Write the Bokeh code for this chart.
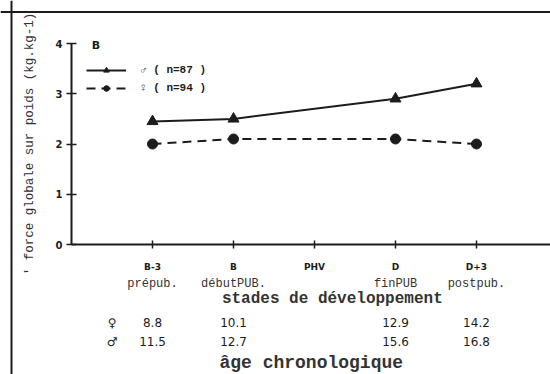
from bokeh.plotting import figure
from bokeh.models import (LinearAxis, FixedTicker, Range1d, Span, Label,
                          Legend, LegendItem)
from bokeh.embed import file_html
from bokeh.resources import INLINE

# ---------------- data ----------------
stage_codes = ["B-3", "B", "PHV", "D", "D+3"]
stage_names = ["prépub.", "débutPUB.", "", "finPUB", "postpub."]
age_female = ["8.8", "10.1", "", "12.9", "14.2"]
age_male = ["11.5", "12.7", "", "15.6", "16.8"]
grip_male = [2.45, 2.50, None, 2.90, 3.20]      # ♂ (n=87)
grip_female = [2.00, 2.10, None, 2.10, 2.00]    # ♀ (n=94)
y_ticks = [0, 1, 2, 3, 4]

stage_pos = [i + 1 for i in range(len(stage_codes))]

INK = "#1c1c1c"
MONO = "Liberation Mono"
SANS = "DejaVu Sans"

p = figure(width=550, height=374, output_backend="svg", toolbar_location=None,
           x_range=Range1d(-0.877, 5.914), y_range=Range1d(-2.587, 4.856),
           x_axis_type=None, y_axis_type=None,
           min_border=0, min_border_left=0, min_border_right=0,
           min_border_top=0, min_border_bottom=0)
p.grid.visible = False
p.outline_line_color = None
p.background_fill_color = "white"
p.border_fill_color = "white"

# page frame lines (left and top)
p.add_layout(Span(location=-0.741, dimension="height", line_color=INK, line_width=2))
p.add_layout(Span(location=4.627, dimension="width", line_color=INK, line_width=2))

# ---------------- y axis ----------------
yax = LinearAxis(fixed_location=0, bounds=(0, 4),
                 ticker=FixedTicker(ticks=y_ticks),
                 axis_line_color=INK, axis_line_width=2,
                 major_tick_line_color=INK, major_tick_line_width=1.5,
                 major_tick_in=5, major_tick_out=5, minor_tick_line_color=None,
                 major_label_standoff=4,
                 major_label_text_font=SANS, major_label_text_font_style="bold",
                 major_label_text_font_size="10px", major_label_text_color=INK,
                 axis_label="' force globale sur poids (kg.kg-1)",
                 axis_label_text_font=MONO, axis_label_text_font_size="12.5px",
                 axis_label_text_font_style="normal", axis_label_text_color="#333333",
                 axis_label_standoff=16)
p.add_layout(yax, "left")

# ---------------- x axes ----------------
def overrides(ticks, labels):
    return {float(t): l for t, l in zip(ticks, labels)}

xax = LinearAxis(fixed_location=0, bounds=(0, 6),
                 ticker=FixedTicker(ticks=stage_pos),
                 major_label_overrides=overrides(stage_pos, stage_codes),
                 axis_line_color=INK, axis_line_width=2,
                 major_tick_line_color=INK, major_tick_line_width=1.5,
                 major_tick_in=4, major_tick_out=4, minor_tick_line_color=None,
                 major_label_standoff=13,
                 major_label_text_font=SANS, major_label_text_font_style="bold",
                 major_label_text_font_size="9px", major_label_text_color=INK)
p.add_layout(xax, "below")

xax2 = LinearAxis(fixed_location=0, bounds=(0, 6),
                  ticker=FixedTicker(ticks=stage_pos),
                  major_label_overrides=overrides(stage_pos, stage_names),
                  axis_line_color=None, major_tick_line_color=None,
                  major_tick_in=0, major_tick_out=0, minor_tick_line_color=None,
                  major_label_standoff=32,
                  major_label_text_font=MONO, major_label_text_font_size="12px",
                  major_label_text_color="#333333")
p.add_layout(xax2, "below")

age_ticks = [0.5] + stage_pos
xax3 = LinearAxis(fixed_location=0, bounds=(0, 6),
                  ticker=FixedTicker(ticks=age_ticks),
                  major_label_overrides=overrides(age_ticks, ["♀"] + age_female),
                  axis_line_color=None, major_tick_line_color=None,
                  major_tick_in=0, major_tick_out=0, minor_tick_line_color=None,
                  major_label_standoff=71,
                  major_label_text_font=SANS, major_label_text_font_size="12px",
                  major_label_text_color=INK)
p.add_layout(xax3, "below")

xax4 = LinearAxis(fixed_location=0, bounds=(0, 6),
                  ticker=FixedTicker(ticks=age_ticks),
                  major_label_overrides=overrides(age_ticks, ["♂"] + age_male),
                  axis_line_color=None, major_tick_line_color=None,
                  major_tick_in=0, major_tick_out=0, minor_tick_line_color=None,
                  major_label_standoff=90,
                  major_label_text_font=SANS, major_label_text_font_size="12px",
                  major_label_text_color=INK)
p.add_layout(xax4, "below")

# axis titles
p.add_layout(Label(x=3.22, y=-1.075, text="stades de développement",
                   text_align="center", text_baseline="middle",
                   text_font=MONO, text_font_size="16px", text_font_style="bold",
                   text_color="#333333"))
p.add_layout(Label(x=2.96, y=-2.55, text="âge chronologique",
                   text_align="center", text_baseline="bottom",
                   text_font=MONO, text_font_size="18px", text_font_style="bold",
                   text_color="#333333"))

# panel letter
p.add_layout(Label(x=0.30, y=3.97, text="B", text_align="center",
                   text_baseline="middle", text_font=SANS, text_font_size="11px",
                   text_font_style="bold", text_color=INK))

# ---------------- series ----------------
mx = [x for x, v in zip(stage_pos, grip_male) if v is not None]
my = [v for v in grip_male if v is not None]
fx = [x for x, v in zip(stage_pos, grip_female) if v is not None]
fy = [v for v in grip_female if v is not None]

ml = p.line(mx, my, line_color=INK, line_width=2)
ms = p.scatter(mx, my, marker="triangle", size=11, fill_color=INK, line_color=INK)
fl = p.line(fx, fy, line_color=INK, line_width=2, line_dash="9 6")
fs = p.scatter(fx, fy, marker="circle", size=10, fill_color=INK, line_color=INK)

legend = Legend(items=[LegendItem(label="♂ ( n=87 )", renderers=[ml, ms]),
                       LegendItem(label="♀ ( n=94 )", renderers=[fl, fs])],
                location=(86, 279), glyph_width=40, glyph_height=14,
                label_height=14, spacing=4, padding=0, margin=0,
                label_standoff=14, border_line_color=None,
                background_fill_alpha=0,
                label_text_font=MONO, label_text_font_style="bold",
                label_text_font_size="11px", label_text_color=INK)
p.add_layout(legend)

open("out.html", "w").write(file_html(p, INLINE))
